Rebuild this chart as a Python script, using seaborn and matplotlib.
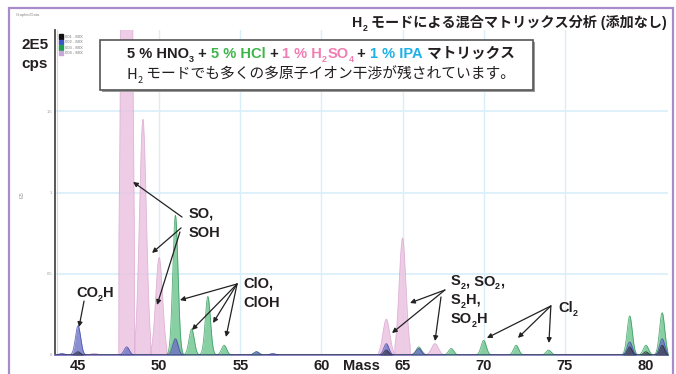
import numpy as np
import pandas as pd
import seaborn as sns
import matplotlib.pyplot as plt
from matplotlib.patches import Rectangle, Patch

# peak tops: mass and height (units of 1E5 cps)
pink_mass = [46, 48, 49, 50, 51, 64, 65, 66, 67]
pink_cps = [0.01, 10.0, 1.45, 0.60, 0.10, 0.22, 0.72, 0.04, 0.07]
green_mass = [51, 52, 53, 54, 56, 66, 68, 70, 72, 74, 79, 80, 81]
green_cps = [0.86, 0.16, 0.36, 0.06, 0.02, 0.05, 0.04, 0.09, 0.06, 0.03, 0.24, 0.06, 0.26]
blue_mass = [44, 45, 48, 51, 56, 57, 64, 66, 79, 81]
blue_cps = [0.01, 0.18, 0.05, 0.10, 0.02, 0.01, 0.07, 0.04, 0.08, 0.10]
black_mass = [45, 64, 79, 80, 81]
black_cps = [0.02, 0.03, 0.05, 0.02, 0.06]

legend_labels = ['001 - MIX', '002 - MIX', '003 - MIX', '004 - MIX']
x_ticks = [45, 50, 55, 60, 65, 70, 75, 80]
y_ticks = [0, 0.5, 1, 1.5]
y_tick_labels = ['0', '0.5', '1', '1.5']

W, H = 676, 374
LATIN = ['Liberation Sans', 'Noto Sans CJK JP', 'DejaVu Sans']
JP = ['Noto Sans CJK JP', 'DejaVu Sans']
INK = '#231f20'


def spectrum(masses, heights, sigma, grid):
    y = np.zeros_like(grid)
    for m, h in zip(masses, heights):
        d = grid - m
        y += np.where(np.abs(d) < 0.48, h * np.exp(-0.5 * (d / sigma) ** 2), 0)
    return y


def text_width(fig, s, **kw):
    r = fig.canvas.get_renderer()
    t1 = fig.text(0, 0, '|' + s + '|', **kw)
    t2 = fig.text(0, 0, '||', **kw)
    w = t1.get_window_extent(r).width - t2.get_window_extent(r).width
    t1.remove()
    t2.remove()
    return w


def draw_runs(fig, runs, x_px, base_px, size, family, weight='bold', align='left'):
    # runs: (text, color, is_subscript)
    pieces = []
    total = 0
    for s, color, sub in runs:
        fs = size * 0.62 if sub else size
        kw = dict(fontsize=fs, color=color, family=family, fontweight=weight)
        w = text_width(fig, s, **kw)
        pieces.append((s, kw, sub, total))
        total += w
    x0 = x_px - total if align == 'right' else x_px
    for s, kw, sub, off in pieces:
        drop = size * 0.3 * 100 / 72 if sub else 0
        fig.text((x0 + off) / W, 1 - (base_px + drop) / H, s, va='baseline', ha='left',
                 zorder=30, **kw)


sns.set_style('white')
plt.rcParams['font.family'] = LATIN

fig = plt.figure(figsize=(W / 100, H / 100), dpi=100)
ax = fig.add_axes([55 / W, 19 / H, 613 / W, 325 / H])

grid = np.linspace(43.5, 81.5, 3801)
series = [
    ('pink', pink_mass, pink_cps, 0.21, '#ecc4e2', '#d9a6cf', 0.85),
    ('green', green_mass, green_cps, 0.16, '#62bf86', '#2e9858', 0.75),
    ('blue', blue_mass, blue_cps, 0.16, '#6d73c6', '#4248a8', 0.80),
    ('black', black_mass, black_cps, 0.14, '#3a3a4a', '#222230', 0.70),
]

for gx in [50, 55, 60, 65, 70, 75]:
    ax.axvline(gx, color='#d8eef8', lw=1, zorder=0)
for gy in [0.5, 1.0, 1.5]:
    ax.axhline(gy, color='#d8eef8', lw=1.2, zorder=0)

for i, (name, m, h, sig, fill, edge, a) in enumerate(series):
    df = pd.DataFrame({'mass': grid, 'cps': spectrum(m, h, sig, grid)})
    ax.fill_between(df['mass'], df['cps'], color=fill, alpha=a, lw=0, zorder=2 + i)
    sns.lineplot(data=df, x='mass', y='cps', ax=ax, color=edge, lw=0.6,
                 alpha=0.8, zorder=2 + i, estimator=None)

ax.set_xlim(43.58, 81.36)
ax.set_ylim(0, 2.0)
ax.set_xlabel('')
ax.set_ylabel('')
ax.set_xticks(x_ticks)
ax.set_xticklabels([str(t) for t in x_ticks], fontsize=10.5, fontweight='bold', color=INK)
ax.set_yticks(y_ticks)
ax.set_yticklabels(y_tick_labels, fontsize=3, color='#999999')
ax.tick_params(axis='x', length=0, pad=3)
ax.tick_params(axis='y', length=0, pad=2)
for side in ['top', 'right']:
    ax.spines[side].set_visible(False)
ax.spines['left'].set_color('#4a4a4a')
ax.spines['left'].set_linewidth(1.3)
ax.spines['bottom'].set_color('#8c7cc4')
ax.spines['bottom'].set_linewidth(1.3)
ax.axvline(43.72, color='#f5cdbd', lw=0.8, zorder=1)

# tiny legend
handles = [Patch(color=c) for c in ['#111111', '#3d55c8', '#1fa050', '#c8a6dc']]
ax.legend(handles, legend_labels, fontsize=3, loc='upper left',
          bbox_to_anchor=(57 / W, 1 - 32 / H), bbox_transform=fig.transFigure,
          frameon=False, handlelength=1.0, handleheight=1.3, labelspacing=0.2,
          borderpad=0, handletextpad=0.5, labelcolor='#777777')

# outer frame
fig.patches.append(Rectangle((9 / W, -0.05), 664 / W, 1 - 8 / H + 0.05, transform=fig.transFigure,
                             fill=False, edgecolor='#a88cc9', lw=1.6))

fig.text(16 / W, 1 - 16 / H, 'Graphic/Data', fontsize=3, color='#888888')
fig.text(21 / W, 1 - 49 / H, '2E5', fontsize=11, fontweight='bold', color=INK, va='baseline')
fig.text(21 / W, 1 - 68 / H, 'cps', fontsize=11, fontweight='bold', color=INK, va='baseline')
fig.text(19 / W, 1 - 195 / H, 'E5', fontsize=4, color='#999999', rotation=90, va='center')

# title
draw_runs(fig, [('H', INK, False), ('2', INK, True),
                (' モードによる混合マトリックス分析 (添加なし)', INK, False)],
          667, 27, 10.2, LATIN, align='right')

# matrix box
fig.patches.append(Rectangle((102 / W, 1 - 92 / H), 433 / W, 50 / H, transform=fig.transFigure,
                             facecolor='#9a9a9a', edgecolor='none', zorder=20))
fig.patches.append(Rectangle((100 / W, 1 - 90 / H), 433 / W, 50 / H, transform=fig.transFigure,
                             facecolor='white', edgecolor='#555555', lw=1.2, zorder=21))
green, pink, cyan = '#3db54a', '#f07db3', '#1fb0e6'
draw_runs(fig, [('5 % HNO', INK, False), ('3', INK, True), (' + ', INK, False),
                ('5 % HCl', green, False), (' + ', INK, False),
                ('1 % H', pink, False), ('2', pink, True), ('SO', pink, False), ('4', pink, True),
                (' + ', INK, False), ('1 % IPA', cyan, False), (' マトリックス', INK, False)],
          127, 58, 10.5, LATIN)
draw_runs(fig, [('H', INK, False), ('2', INK, True),
                (' モードでも多くの多原子イオン干渉が残されています。', INK, False)],
          127, 79, 10.6, JP, weight='normal')

# peak labels
ann = dict(size=10.5, family=LATIN)
draw_runs(fig, [('CO', INK, False), ('2', INK, True), ('H', INK, False)], 76, 297, **ann)
draw_runs(fig, [('SO,', INK, False)], 189, 218, **ann)
draw_runs(fig, [('SOH', INK, False)], 189, 237, **ann)
draw_runs(fig, [('ClO,', INK, False)], 243, 288, **ann)
draw_runs(fig, [('ClOH', INK, False)], 243, 307, **ann)
draw_runs(fig, [('S', INK, False), ('2', INK, True), (', SO', INK, False), ('2', INK, True),
                (',', INK, False)], 451, 285, **ann)
draw_runs(fig, [('S', INK, False), ('2', INK, True), ('H,', INK, False)], 451, 304, **ann)
draw_runs(fig, [('SO', INK, False), ('2', INK, True), ('H', INK, False)], 451, 323, **ann)
draw_runs(fig, [('Cl', INK, False), ('2', INK, True)], 558, 312, **ann)
draw_runs(fig, [('Mass', INK, False)], 343, 370, **ann)

arrows = [
    ((45.37, 0.332), (45.06, 0.172)),
    ((51.41, 0.849), (48.39, 1.065)),
    ((51.35, 0.782), (49.56, 0.628)),
    ((51.28, 0.757), (49.87, 0.308)),
    ((54.80, 0.437), (51.28, 0.338)),
    ((54.80, 0.437), (52.02, 0.154)),
    ((54.80, 0.437), (53.32, 0.197)),
    ((54.80, 0.437), (54.12, 0.111)),
    ((67.61, 0.400), (65.46, 0.320)),
    ((67.61, 0.400), (64.35, 0.135)),
    ((67.37, 0.357), (67.00, 0.086)),
    ((74.14, 0.302), (70.20, 0.105)),
    ((74.14, 0.302), (72.11, 0.105)),
    ((74.14, 0.302), (74.02, 0.074)),
]
for tail, head in arrows:
    ax.annotate('', xy=head, xytext=tail,
                arrowprops=dict(arrowstyle='-|>', color='#222222', lw=0.9,
                                mutation_scale=7, shrinkA=0, shrinkB=0), zorder=10)

fig.savefig('out.png', dpi=100)
